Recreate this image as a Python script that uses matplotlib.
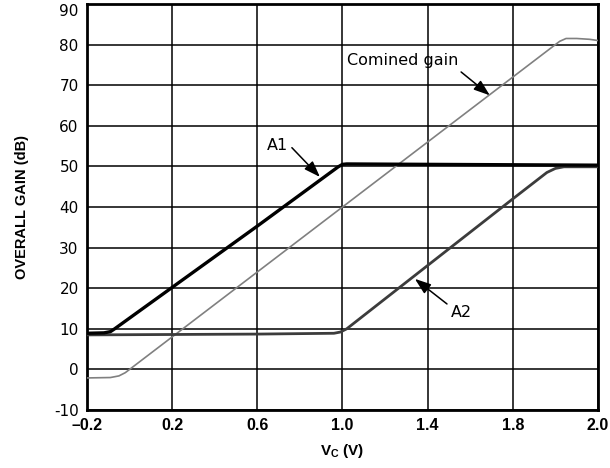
import matplotlib
matplotlib.use("Agg")
import matplotlib.pyplot as plt

# control voltage ticks (reference labels the last grid line "2.0")
x_ticks = [-0.2, 0.2, 0.6, 1.0, 1.4, 1.8, 2.2]
x_labels = ["\u20130.2", "0.2", "0.6", "1.0", "1.4", "1.8", "2.0"]
y_ticks = [-10, 0, 10, 20, 30, 40, 50, 60, 70, 80, 90]
y_labels = ["-10", "0", "10", "20", "30", "40", "50", "60", "70", "80", "90"]

# A1 gain
a1_vc = [-0.2, -0.12, -0.09, -0.07, 0.2, 0.6, 0.98, 1.0, 1.02, 1.4, 1.8, 2.2]
a1_db = [8.9, 9.0, 9.3, 10.0, 20.2, 35.3, 49.9, 50.5, 50.6, 50.5, 50.4, 50.3]

# A2 gain
a2_vc = [-0.2, 0.2, 0.6, 0.96, 0.99, 1.02, 1.4, 1.8, 1.96, 2.0, 2.04, 2.2]
a2_db = [8.5, 8.6, 8.7, 8.9, 9.2, 10.0, 25.6, 42.0, 48.5, 49.5, 49.9, 49.9]

# combined gain
comb_vc = [-0.2, -0.09, -0.05, -0.02, 0.0, 0.2, 0.6, 1.0, 1.4, 1.8, 2.02, 2.05, 2.1, 2.16, 2.2]
comb_db = [-2.1, -2.0, -1.6, -0.8, 0.0, 8.0, 24.0, 40.0, 56.0, 72.0, 80.8, 81.5, 81.5, 81.3, 81.0]

fig = plt.figure(figsize=(6.1, 4.68), dpi=100)
ax = fig.add_axes([0.1426, 0.1239, 0.8377, 0.8676])

ax.plot(comb_vc, comb_db, color="#808080", lw=1.2, zorder=3)
ax.plot(a2_vc, a2_db, color="#3c3c3c", lw=2.0, zorder=4)
ax.plot(a1_vc, a1_db, color="black", lw=2.4, zorder=5)

ax.set_xlim(-0.2, 2.2)
ax.set_ylim(-10, 90)
ax.set_xticks(x_ticks)
ax.set_xticklabels(x_labels, fontfamily="Liberation Sans", fontweight="bold", fontsize=11.5)
ax.set_yticks(y_ticks)
ax.set_yticklabels(y_labels, fontfamily="DejaVu Sans", fontsize=11)
ax.get_yticklabels()[-1].set_va("top")   # keep "90" inside the figure
ax.tick_params(length=0, pad=6)
ax.grid(True, color="black", lw=1.1)
for s in ax.spines.values():
    s.set_linewidth(2)

ax.set_xlabel("V$_\\mathregular{C}$ (V)", fontfamily="Liberation Sans", fontweight="bold",
              fontsize=11, labelpad=6)
ax.set_ylabel("OVERALL GAIN (dB)", fontfamily="Liberation Sans", fontweight="bold",
              fontsize=10.5, labelpad=18)

def arrow(rel):
    return dict(arrowstyle="-|>,head_length=0.7,head_width=0.25", color="black",
                lw=1.1, mutation_scale=14, relpos=rel, shrinkA=1, shrinkB=0)

ax.annotate("A1", xy=(0.894, 47.4), xytext=(0.645, 55.2), fontsize=11.5,
            ha="left", va="center", arrowprops=arrow((1.0, 0.6)))
ax.annotate("A2", xy=(1.34, 22.3), xytext=(1.509, 13.9), fontsize=11.5,
            ha="left", va="center", arrowprops=arrow((0.0, 0.9)))
ax.annotate("Comined gain", xy=(1.692, 67.5), xytext=(1.02, 76.0), fontsize=11.5,
            ha="left", va="center", arrowprops=arrow((0.97, 0.1)))

fig.savefig("out.png", dpi=100)
